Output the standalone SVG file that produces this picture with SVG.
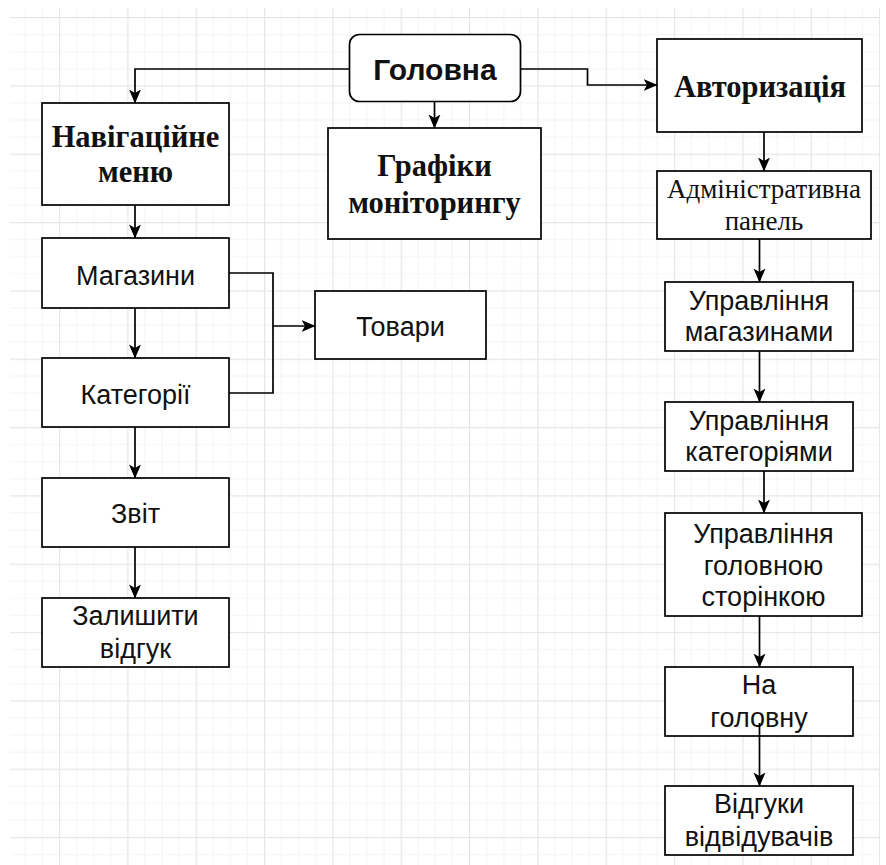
<svg xmlns="http://www.w3.org/2000/svg" width="886" height="865" viewBox="0 0 886 865">
  <defs>
    <pattern id="grid" patternUnits="userSpaceOnUse" x="59" y="17" width="68.33" height="68.33">
      <rect x="0" y="0" width="68.33" height="68.33" fill="#ffffff"/>
      <g fill="#f4f4f4">
        <rect x="17.08" y="0" width="1" height="68.33"/>
        <rect x="34.17" y="0" width="1" height="68.33"/>
        <rect x="51.25" y="0" width="1" height="68.33"/>
        <rect x="0" y="17.08" width="68.33" height="1"/>
        <rect x="0" y="34.17" width="68.33" height="1"/>
        <rect x="0" y="51.25" width="68.33" height="1"/>
      </g>
      <g fill="#e6e6e6">
        <rect x="0" y="0" width="1.2" height="68.33"/>
        <rect x="0" y="0" width="68.33" height="1.2"/>
      </g>
    </pattern>
    <marker id="arrow" markerUnits="userSpaceOnUse" viewBox="0 0 14 13" markerWidth="14" markerHeight="13" refX="13.5" refY="6.5" orient="auto">
      <path d="M0,0.5 L14,6.5 L0,12.5 L3.5,6.5 Z" fill="#000"/>
    </marker>
    <style>
      .box { fill: #ffffff; stroke: #000; stroke-width: 1.7; }
      .sans { font-family: "Liberation Sans", Arial, sans-serif; font-size: 27px; fill: #111; text-anchor: middle; }
      .sansb { font-family: "Liberation Sans", Arial, sans-serif; font-size: 30px; font-weight: bold; fill: #111; text-anchor: middle; }
      .serifb { font-family: "Liberation Serif", "Times New Roman", serif; font-size: 30.5px; font-weight: bold; fill: #111; text-anchor: middle; }
      .serif { font-family: "Liberation Serif", "Times New Roman", serif; font-size: 27px; fill: #111; text-anchor: middle; }
      .edge { fill: none; stroke: #000; stroke-width: 1.7; marker-end: url(#arrow); }
      .edge2 { fill: none; stroke: #000; stroke-width: 1.7; }
    </style>
  </defs>

  <rect x="0" y="0" width="886" height="865" fill="#ffffff"/>
  <rect x="10" y="8" width="870" height="857" fill="url(#grid)"/>

  <g id="connectors">
    <path class="edge" d="M349.5,69 H135 V103"/>
    <path class="edge" d="M434.5,101.5 V128"/>
    <path class="edge" d="M520.5,69 H587.5 V85 H657"/>
    <path class="edge" d="M135,205 V238"/>
    <path class="edge" d="M135,308 V358"/>
    <path class="edge" d="M229,273 H273 V326 H315"/>
    <path class="edge2" d="M229,393 H273 V326"/>
    <path class="edge" d="M135,427 V478"/>
    <path class="edge" d="M135,547 V598"/>
    <path class="edge" d="M764,132 V171"/>
    <path class="edge" d="M759.5,239 V282"/>
    <path class="edge" d="M759.5,351 V402"/>
    <path class="edge" d="M764,471 V513"/>
    <path class="edge" d="M759.5,616 V667"/>
  </g>

  <g id="node-golovna">
    <rect class="box" x="349.5" y="34.5" width="171" height="67" rx="10" ry="10"/>
    <text class="sansb" x="435" y="80">Головна</text>
  </g>
  <g id="node-nav">
    <rect class="box" x="42" y="103" width="187" height="102"/>
    <text class="serifb" x="135.5" y="146.5">Навігаційне</text>
    <text class="serifb" x="135.5" y="181.5">меню</text>
  </g>
  <g id="node-grafiky">
    <rect class="box" x="328" y="128" width="213" height="111"/>
    <text class="serifb" x="434.5" y="175.5">Графіки</text>
    <text class="serifb" x="434.5" y="213">моніторингу</text>
  </g>
  <g id="node-auth">
    <rect class="box" x="657" y="39" width="205" height="93"/>
    <text class="serifb" x="760" y="97">Авторизація</text>
  </g>
  <g id="node-admin">
    <rect class="box" x="657" y="171" width="214" height="68"/>
    <text class="serif" x="764" y="198">Адміністративна</text>
    <text class="serif" x="764" y="230">панель</text>
  </g>
  <g id="node-magazyny">
    <rect class="box" x="42" y="238" width="187" height="70"/>
    <text class="sans" x="135.5" y="285">Магазини</text>
  </g>
  <g id="node-katehorii">
    <rect class="box" x="42" y="358" width="187" height="69"/>
    <text class="sans" x="135.5" y="404">Категорії</text>
  </g>
  <g id="node-tovary">
    <rect class="box" x="315" y="291" width="171" height="68"/>
    <text class="sans" x="400.5" y="336">Товари</text>
  </g>
  <g id="node-zvit">
    <rect class="box" x="42" y="478" width="187" height="69"/>
    <text class="sans" x="135.5" y="523">Звіт</text>
  </g>
  <g id="node-vidhuk">
    <rect class="box" x="42" y="598" width="187" height="69"/>
    <text class="sans" x="135.5" y="625">Залишити</text>
    <text class="sans" x="135.5" y="658">відгук</text>
  </g>
  <g id="node-upr-mag">
    <rect class="box" x="665" y="282" width="188" height="69"/>
    <text class="sans" x="759" y="310">Управління</text>
    <text class="sans" x="759" y="341">магазинами</text>
  </g>
  <g id="node-upr-kat">
    <rect class="box" x="665" y="402" width="188" height="69"/>
    <text class="sans" x="759" y="430">Управління</text>
    <text class="sans" x="759" y="461">категоріями</text>
  </g>
  <g id="node-upr-gol">
    <rect class="box" x="665" y="513" width="197" height="103"/>
    <text class="sans" x="763.5" y="543">Управління</text>
    <text class="sans" x="763.5" y="575">головною</text>
    <text class="sans" x="763.5" y="606">сторінкою</text>
  </g>
  <g id="node-na-golovnu">
    <rect class="box" x="665" y="667" width="188" height="69"/>
    <text class="sans" x="759" y="694">На</text>
    <text class="sans" x="759" y="727">головну</text>
  </g>
  <g id="node-vidhuky">
    <rect class="box" x="665" y="786" width="188" height="69"/>
    <text class="sans" x="759" y="813">Відгуки</text>
    <text class="sans" x="759" y="846">відвідувачів</text>
  </g>

  <g id="connectors-over">
    <path class="edge" d="M759.5,723 V786"/>
  </g>
</svg>
